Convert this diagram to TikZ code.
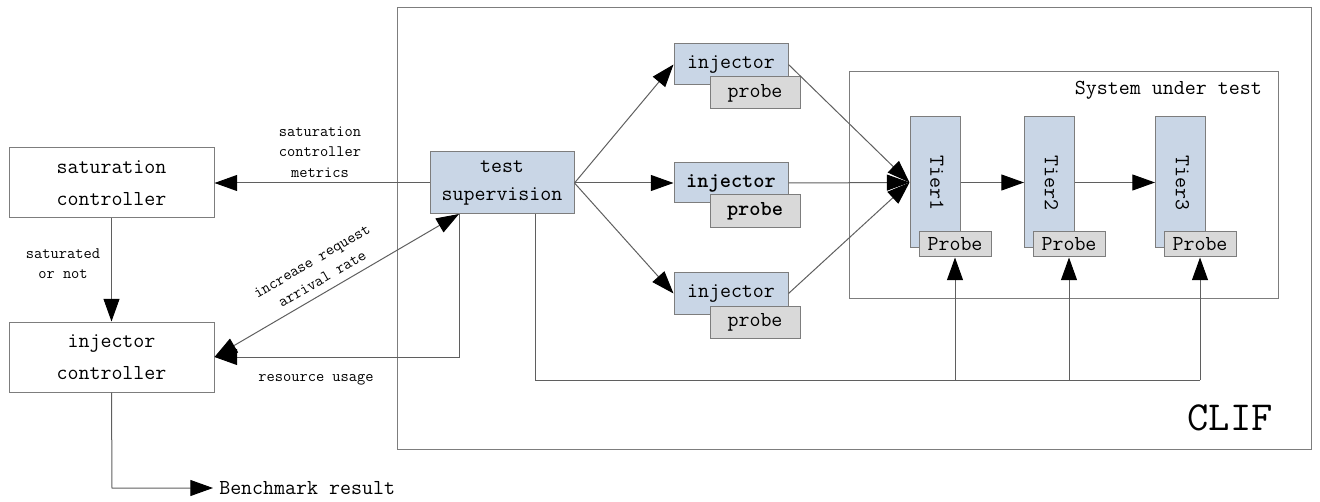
\documentclass[tikz,border=0pt]{standalone}
\usetikzlibrary{arrows.meta,calc}
\definecolor{lineg}{RGB}{95,95,95}
\definecolor{boxb}{RGB}{201,214,230}
\definecolor{boxg}{RGB}{217,217,217}
\definecolor{bord}{RGB}{125,125,125}
\begin{document}
\begin{tikzpicture}[x=0.75pt,y=-0.75pt,
  font=\ttfamily,
  every node/.style={inner sep=0pt, align=center},
  plain/.style={draw=bord, fill=white, line width=0.75pt},
  bluebox/.style={draw=bord, fill=boxb, line width=0.75pt},
  greybox/.style={draw=bord, fill=boxg, line width=0.75pt},
  big/.style={font=\ttfamily\fontsize{16}{24}\selectfont},
  small/.style={font=\ttfamily\fontsize{12}{15.4}\selectfont},
  tip/.tip={Triangle[length=17pt,width=12pt,color=black]},
  conn/.style={draw=lineg, line width=0.75pt, -tip},
  dconn/.style={draw=lineg, line width=0.75pt, tip-tip},
  wire/.style={draw=lineg, line width=0.75pt}]
\useasboundingbox (0,0) rectangle (1320,502);

% frames
\node[draw=bord, line width=0.75pt, minimum width=685.5pt, minimum height=330.75pt] (clif) at (854,228.5) {};
\node[draw=bord, line width=0.75pt, minimum width=321.75pt, minimum height=169.5pt] (sut) at (1063.5,185) {};
\node[anchor=east, big] (sutl) at (1262,90) {System under test};
\node[font=\ttfamily\fontsize{31}{31}\selectfont] (clifl) at (1230,418) {CLIF};

% left controllers
\node[plain, big, minimum width=153.75pt, minimum height=52.5pt] (sat) at (111.5,183) {saturation\\controller};
\node[plain, big, minimum width=153.75pt, minimum height=52.5pt] (ic) at (111.5,357) {injector\\controller};

% test supervision
\node[bluebox, font=\ttfamily\fontsize{16}{21}\selectfont, minimum width=108pt, minimum height=46.5pt] (ts) at (502,183) {test\\supervision};
\coordinate (tsa) at (459,214);
\coordinate (tsb) at (535,214);

% injectors
\node[bluebox, big, minimum width=85.5pt, minimum height=30.75pt] (inj1) at (731,64.5) {injector};
\node[greybox, big, minimum width=67.5pt, minimum height=24pt] (pr1) at (755,93) {probe};
\node[bluebox, big, minimum width=85.5pt, minimum height=30pt] (inj2) at (731,183) {\bfseries injector};
\node[greybox, big, minimum width=67.5pt, minimum height=24.75pt] (pr2) at (755,211.5) {\bfseries probe};
\node[bluebox, big, minimum width=85.5pt, minimum height=30.75pt] (inj3) at (731,293.5) {injector};
\node[greybox, big, minimum width=67.5pt, minimum height=24pt] (pr3) at (755,322) {probe};

% tiers
\node[bluebox, minimum width=37.5pt, minimum height=98.25pt] (t1) at (935,182.5) {};
\node[bluebox, minimum width=37.5pt, minimum height=98.25pt] (t2) at (1049.5,182.5) {};
\node[bluebox, minimum width=37.5pt, minimum height=98.25pt] (t3) at (1180.5,182.5) {};
\node[big, rotate=-90] (t1l) at (937,183) {Tier1};
\node[big, rotate=-90] (t2l) at (1051.5,183) {Tier2};
\node[big, rotate=-90] (t3l) at (1182.5,183) {Tier3};
\node[greybox, big, minimum width=54pt, minimum height=18.75pt] (p1) at (955,244.5) {Probe};
\node[greybox, big, minimum width=54pt, minimum height=18.75pt] (p2) at (1069,244.5) {Probe};
\node[greybox, big, minimum width=54pt, minimum height=18.75pt] (p3) at (1200,244.5) {Probe};

% connectors: supervision -> injectors
\draw[conn] (ts.east) -- (inj1.west);
\draw[conn] (ts.east) -- (inj2.west);
\draw[conn] (ts.east) -- (inj3.west);
% injectors -> Tier1
\draw[conn] (inj1.east) -- (t1.west);
\draw[conn] (inj2.east) -- (t1.west);
\draw[conn] (inj3.east) -- (t1.west);
% tiers
\draw[conn] (t1.east) -- (t2.west);
\draw[conn] (t2.east) -- (t3.west);

% probes line
\coordinate (b0) at (535,380);
\coordinate (b1) at (955,380);
\coordinate (b2) at (1069,380);
\coordinate (b3) at (1200,380);
\draw[wire] (tsb) -- (b0) -- (b3);
\draw[conn] (b1) -- (p1.south);
\draw[conn] (b2) -- (p2.south);
\draw[conn] (b3) -- (p3.south);

% left side
\draw[conn] (ts.west) -- (sat.east);
\node[small] (lm) at (320,152) {saturation\\controller\\metrics};
\draw[conn] (sat.south) -- (ic.north);
\node[small, font=\ttfamily\fontsize{12}{15}\selectfont] (lsn) at (63,264) {saturated\\or not};
\coordinate (ru) at (459,357);
\draw[conn] (tsa) -- (ru) -- (ic.east);
\node[small] (lru) at (316,380) {resource usage};
\draw[dconn] (ic.east) -- (tsa);
\node[small, rotate=30.3] (lin) at (317,270) {increase request\\arrival rate};

% benchmark result
\coordinate (br0) at (112,488);
\coordinate (br1) at (213,488);
\node[big, anchor=west] (br) at (219,488) {Benchmark result};
\draw[conn] (ic.south) -- (br0) -- (br1);
\end{tikzpicture}
\end{document}
